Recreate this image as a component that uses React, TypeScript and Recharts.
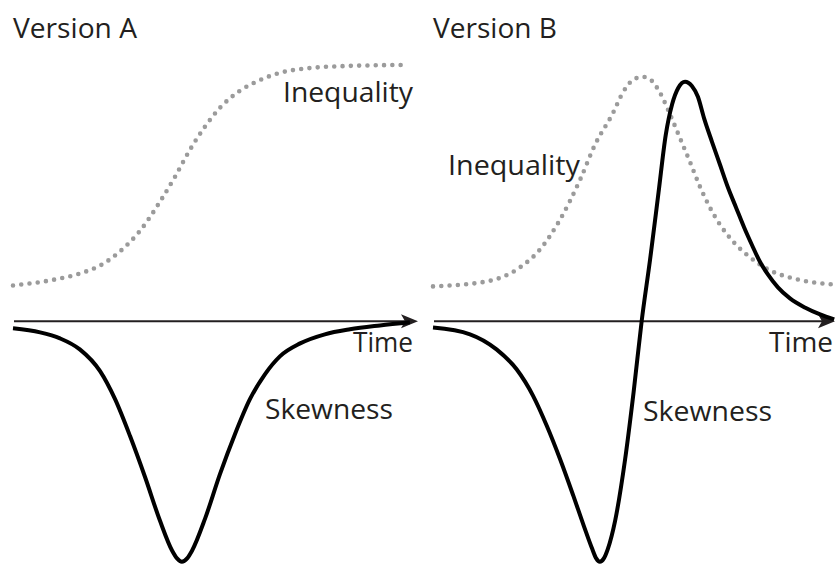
import { LineChart, Line, XAxis, YAxis, ReferenceLine } from "recharts";

// Version A: inequality rises and levels off, skewness dips and recovers
const ineqTimeA = [0, 9.1, 16.5, 21.5, 26.4, 31.4, 36.3, 40.0, 43.7, 47.4, 51.1, 56.0, 61.0, 65.9, 73.3, 83.2, 97.0];
const ineqValuesA = [15.0, 17.1, 20.0, 23.3, 29.2, 37.9, 50.0, 60.4, 71.7, 81.3, 89.2, 96.3, 100.8, 103.8, 105.8, 106.7, 107.1];

const skewTimeA = [0, 6.7, 11.6, 16.5, 21.5, 25.2, 28.9, 32.6, 36.3, 39.3, 40.5, 41.7, 43.0, 44.2, 47.4, 51.1, 54.8, 58.5, 62.2, 65.9, 70.9, 77.0, 83.2, 90.6, 98.0];
const skewValuesA = [-2.9, -4.6, -7.1, -11.7, -20.8, -32.5, -47.9, -65.0, -83.3, -95.8, -99.0, -100.4, -99.0, -95.8, -82.5, -63.8, -47.1, -32.5, -22.1, -14.6, -9.2, -5.4, -3.3, -1.7, -0.4];

// Version B: inequality rises then falls back, skewness swings negative then positive
const ineqTimeB = [0, 13.4, 21.6, 26.6, 31.6, 36.6, 40.3, 44.8, 47.3, 50.2, 52.2, 54.2, 56.5, 59.0, 61.4, 63.9, 66.4, 68.9, 71.4, 75.1, 78.9, 83.8, 88.8, 94.5, 99.5];
const ineqValuesB = [14.6, 16.7, 22.5, 30.0, 42.5, 59.2, 73.8, 87.1, 95.8, 101.3, 102.1, 100.8, 95.4, 86.3, 76.7, 66.7, 56.3, 47.5, 40.4, 32.5, 26.7, 21.3, 18.3, 16.3, 15.4];

const skewTimeB = [0, 9.2, 15.8, 20.8, 24.9, 28.3, 31.6, 34.9, 37.6, 39.6, 40.6, 41.5, 42.5, 43.5, 45.3, 47.8, 49.9, 51.9, 54.0, 56.1, 57.9, 59.5, 61.0, 62.7, 64.4, 65.9, 67.4, 69.4, 71.4, 73.4, 75.4, 77.4, 79.4, 81.3, 83.3, 85.8, 88.8, 92.5, 96.3, 99.8];
const skewValuesB = [-2.6, -5.4, -11.7, -20.0, -31.1, -43.6, -57.5, -72.8, -85.8, -95.0, -99.0, -100.4, -99.0, -95.0, -83.3, -57.5, -29.6, 0, 25.8, 53.8, 77.9, 90.8, 97.5, 100.1, 98.3, 93.8, 85.0, 75.0, 65.4, 55.8, 47.5, 39.2, 31.7, 25.0, 19.6, 14.2, 9.6, 5.8, 2.9, 0.8];

const toPoints = (times: number[], values: number[]) =>
  times.map((t, i) => ({ t, v: values[i] }));

const INK = "#231f20";
const FONT = "'Open Sans', 'Noto Sans', sans-serif";

// axis line with an arrow head at the right end
const TimeArrow = (props: any) => {
  const { x1, y1, x2, y2 } = props;
  return (
    <g>
      <line x1={x1 + 1} y1={y1} x2={x2 - 10} y2={y2} stroke={INK} strokeWidth={2} />
      <polygon
        points={`${x2},${y2} ${x2 - 17},${y2 - 7} ${x2 - 13},${y2} ${x2 - 17},${y2 + 7}`}
        fill={INK}
      />
    </g>
  );
};

interface PanelProps {
  left: number;
  width: number;
  rightMargin: number;
  inequality: { t: number; v: number }[];
  skewness: { t: number; v: number }[];
}

function Panel({ left, width, rightMargin, inequality, skewness }: PanelProps) {
  return (
    <div style={{ position: "absolute", left, top: 0 }}>
      <LineChart
        width={width}
        height={565}
        margin={{ top: 58, right: rightMargin, bottom: 3, left: 13 }}
      >
        <XAxis type="number" dataKey="t" domain={[0, 100]} hide />
        <YAxis type="number" domain={[-100.5, 110]} hide />
        <ReferenceLine
          segment={[
            { x: 0, y: 0 },
            { x: 100, y: 0 },
          ]}
          shape={TimeArrow}
        />
        <Line
          data={inequality}
          dataKey="v"
          type="monotone"
          stroke="#9b9b9b"
          strokeWidth={4.6}
          strokeDasharray="0 8.3"
          strokeLinecap="round"
          dot={false}
          isAnimationActive={false}
        />
        <Line
          data={skewness}
          dataKey="v"
          type="monotone"
          stroke="#000"
          strokeWidth={4}
          dot={false}
          isAnimationActive={false}
        />
      </LineChart>
    </div>
  );
}

export default function App() {
  const textStyle = { fontFamily: FONT, fontSize: 28, fill: INK };
  return (
    <div
      style={{
        position: "absolute",
        left: 0,
        top: 0,
        width: 835,
        height: 565,
        background: "#fff",
        overflow: "hidden",
      }}
    >
      <Panel
        left={0}
        width={420}
        rightMargin={2}
        inequality={toPoints(ineqTimeA, ineqValuesA)}
        skewness={toPoints(skewTimeA, skewValuesA)}
      />
      <Panel
        left={420}
        width={415}
        rightMargin={0}
        inequality={toPoints(ineqTimeB, ineqValuesB)}
        skewness={toPoints(skewTimeB, skewValuesB)}
      />
      <svg
        width={835}
        height={565}
        style={{ position: "absolute", left: 0, top: 0, pointerEvents: "none" }}
      >
        <g style={textStyle}>
          <text x={13} y={38} textLength={124} lengthAdjust="spacingAndGlyphs">Version A</text>
          <text x={433} y={38} textLength={124} lengthAdjust="spacingAndGlyphs">Version B</text>
          <text x={283} y={102} textLength={130} lengthAdjust="spacingAndGlyphs">Inequality</text>
          <text x={448} y={175} textLength={132} lengthAdjust="spacingAndGlyphs">Inequality</text>
          <text x={353} y={352} textLength={60} lengthAdjust="spacingAndGlyphs">Time</text>
          <text x={769} y={352} textLength={64} lengthAdjust="spacingAndGlyphs">Time</text>
          <text x={265} y={419} textLength={128} lengthAdjust="spacingAndGlyphs">Skewness</text>
          <text x={643} y={421} textLength={129} lengthAdjust="spacingAndGlyphs">Skewness</text>
        </g>
      </svg>
    </div>
  );
}
